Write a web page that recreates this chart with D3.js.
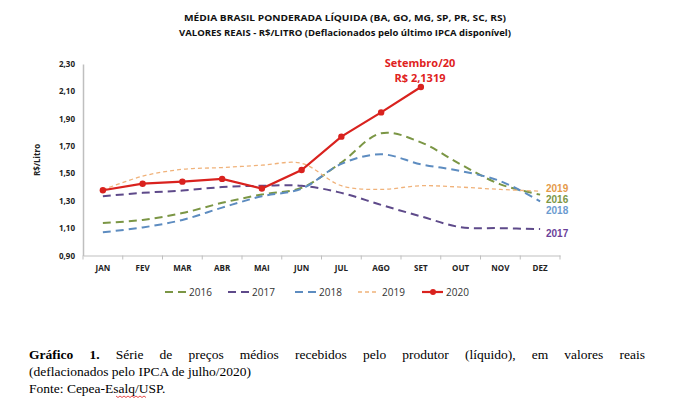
<!DOCTYPE html>
<html>
<head>
<meta charset="utf-8">
<script src="https://cdn.jsdelivr.net/npm/d3@7"></script>
<style>
  body { margin: 0; background: #fff; }
  svg { display: block; }
  .chart text { font-family: "Open Sans", sans-serif; }
  .chart text.caption { font-family: "Liberation Serif", "Times New Roman", serif; font-size: 13.5px; fill: #000; }
  .chart text.endlab { font-family: "Liberation Sans", Arial, sans-serif; }
</style>
</head>
<body>
<svg class="chart" width="676" height="419"></svg>
<script>
var months = ["JAN","FEV","MAR","ABR","MAI","JUN","JUL","AGO","SET","OUT","NOV","DEZ"];
var yTicks = [0.9, 1.1, 1.3, 1.5, 1.7, 1.9, 2.1, 2.3];

var s2016 = [1.137, 1.16, 1.21, 1.285, 1.346, 1.395, 1.58, 1.794, 1.727, 1.566, 1.42, 1.345];
var s2017 = [1.333, 1.358, 1.375, 1.40, 1.41, 1.41, 1.358, 1.27, 1.186, 1.107, 1.10, 1.093];
var s2018 = [1.07, 1.105, 1.16, 1.25, 1.333, 1.388, 1.57, 1.64, 1.567, 1.518, 1.444, 1.296];
var s2019 = [1.38, 1.48, 1.53, 1.543, 1.56, 1.574, 1.41, 1.383, 1.41, 1.40, 1.383, 1.37];
var s2020 = [1.377, 1.425, 1.44, 1.46, 1.39, 1.525, 1.769, 1.946, 2.1319];

var series = [
  {name: "2016", values: s2016, color: "#7b9645", dash: "8,5", width: 2},
  {name: "2017", values: s2017, color: "#5e4a8a", dash: "8,5", width: 2},
  {name: "2018", values: s2018, color: "#5d8cc0", dash: "8,5", width: 2},
  {name: "2019", values: s2019, color: "#f0b27a", dash: "4,3", width: 1.3},
  {name: "2020", values: s2020, color: "#d9221e", dash: null, width: 2.2}
];

var svg = d3.select("svg");

// titles
svg.append("text").attr("x", 345).attr("y", 21).attr("text-anchor", "middle")
  .style("font-size", "9.5px").style("font-weight", "bold").attr("fill", "#111")
  .attr("textLength", 322).attr("lengthAdjust", "spacingAndGlyphs")
  .text("MÉDIA BRASIL PONDERADA LÍQUIDA (BA, GO, MG, SP, PR, SC, RS)");
svg.append("text").attr("x", 345).attr("y", 36).attr("text-anchor", "middle")
  .style("font-size", "9.5px").style("font-weight", "bold").attr("fill", "#111")
  .attr("textLength", 332).attr("lengthAdjust", "spacingAndGlyphs")
  .text("VALORES REAIS - R$/LITRO (Deflacionados pelo último IPCA disponível)");

var x = d3.scaleBand().domain(months).range([83, 560]).padding(0);
var y = d3.scaleLinear().domain([0.9, 2.3]).range([255.5, 64]);
function cx(i) { return x(months[i]) + x.bandwidth() / 2; }

// y axis
var yAxis = d3.axisLeft(y).tickValues(yTicks).tickSize(0).tickPadding(8)
  .tickFormat(function(d) { return d3.format(".2f")(d).replace(".", ","); });
var gy = svg.append("g").attr("transform", "translate(83,0)").call(yAxis);
gy.select(".domain").attr("stroke", "#bfbfbf").attr("stroke-width", 1.5);
gy.selectAll("text").style("font-size", "8px").style("font-weight", "bold").attr("fill", "#222");

svg.append("text").attr("transform", "translate(40,160) rotate(-90)")
  .attr("text-anchor", "middle").style("font-size", "8px").style("font-weight", "bold")
  .attr("fill", "#222").text("R$/Litro");

// x axis
var xAxis = d3.axisBottom(x).tickSize(0).tickPadding(10);
var gx = svg.append("g").attr("transform", "translate(0,255.5)").call(xAxis);
gx.select(".domain").attr("stroke", "#bfbfbf").attr("stroke-width", 1.2);
gx.selectAll("text").style("font-size", "8px").style("font-weight", "bold").attr("fill", "#222");
gx.selectAll(".edge").data(months.map(function(m) { return x(m); }).concat([560]))
  .enter().append("line").attr("class", "edge")
  .attr("x1", function(d) { return d; }).attr("x2", function(d) { return d; })
  .attr("y1", 0).attr("y2", 4).attr("stroke", "#bfbfbf").attr("stroke-width", 1);

// lines
var smooth = d3.line().x(function(d, i) { return cx(i); }).y(function(d) { return y(d); })
  .curve(d3.curveCatmullRom.alpha(0.5));
var straight = d3.line().x(function(d, i) { return cx(i); }).y(function(d) { return y(d); });

series.forEach(function(s) {
  svg.append("path").datum(s.values)
    .attr("d", s.name === "2020" ? straight : smooth)
    .attr("fill", "none").attr("stroke", s.color).attr("stroke-width", s.width)
    .attr("stroke-dasharray", s.dash);
});
svg.selectAll(".dot").data(s2020).enter().append("circle").attr("class", "dot")
  .attr("cx", function(d, i) { return cx(i); }).attr("cy", function(d) { return y(d); })
  .attr("r", 3.2).attr("fill", "#d9221e");

// end labels
var endLabels = [
  {name: "2019", color: "#e59a4a", dy: 192},
  {name: "2016", color: "#7b9645", dy: 203},
  {name: "2018", color: "#6b9bd0", dy: 214},
  {name: "2017", color: "#6a3f99", dy: 237}
];
svg.selectAll(".endlab").data(endLabels).enter().append("text").attr("class", "endlab")
  .attr("x", 546).attr("y", function(d) { return d.dy; })
  .style("font-size", "10px").style("font-weight", "bold")
  .attr("fill", function(d) { return d.color; }).text(function(d) { return d.name; });

// annotation
svg.append("text").attr("x", 420).attr("y", 67).attr("text-anchor", "middle")
  .style("font-size", "11px").style("font-weight", "bold").attr("fill", "#e0221d").text("Setembro/20");
svg.append("text").attr("x", 420).attr("y", 82).attr("text-anchor", "middle")
  .style("font-size", "11px").style("font-weight", "bold").attr("fill", "#e0221d").text("R$ 2,1319");

// legend
var legX = [165, 228, 295, 358, 422];
var leg = svg.selectAll(".leg").data(series).enter().append("g").attr("class", "leg")
  .attr("transform", function(d, i) { return "translate(" + legX[i] + ",292)"; });
leg.append("line").attr("x1", 0).attr("x2", 21).attr("y1", 0).attr("y2", 0)
  .attr("stroke", function(d) { return d.color; })
  .attr("stroke-width", function(d) { return d.width; })
  .attr("stroke-dasharray", function(d) { return d.dash; });
leg.filter(function(d) { return d.name === "2020"; }).append("circle")
  .attr("cx", 11).attr("cy", 0).attr("r", 3).attr("fill", "#d9221e");
leg.append("text").attr("x", 24).attr("y", 3.5).style("font-size", "10px").attr("fill", "#333")
  .text(function(d) { return d.name; });

// caption (first line justified by widening word gaps)
var cap1 = svg.append("text").attr("class", "caption").attr("x", 29).attr("y", 359);
cap1.append("tspan").style("font-weight", "bold").text("Gráfico 1.");
cap1.append("tspan").text(" Série de preços médios recebidos pelo produtor (líquido), em valores reais");
var natural = cap1.node().getComputedTextLength();
var gaps = cap1.text().split(" ").length - 1;
cap1.style("word-spacing", ((645 - 29 - natural) / gaps) + "px");
svg.append("text").attr("class", "caption").attr("x", 29).attr("y", 376)
  .text("(deflacionados pelo IPCA de julho/2020)");
svg.append("text").attr("class", "caption").attr("x", 29).attr("y", 393)
  .text("Fonte: Cepea-Esalq/USP.");
// spell-check squiggle under "Esalq"
var sq = d3.range(0, 16).map(function(i) { return [116 + i * 2, 396 + (i % 2 ? 1.5 : 0)]; });
svg.append("path").attr("d", d3.line()(sq)).attr("fill", "none").attr("stroke", "#e02020").attr("stroke-width", 0.8);
</script>
</body>
</html>
